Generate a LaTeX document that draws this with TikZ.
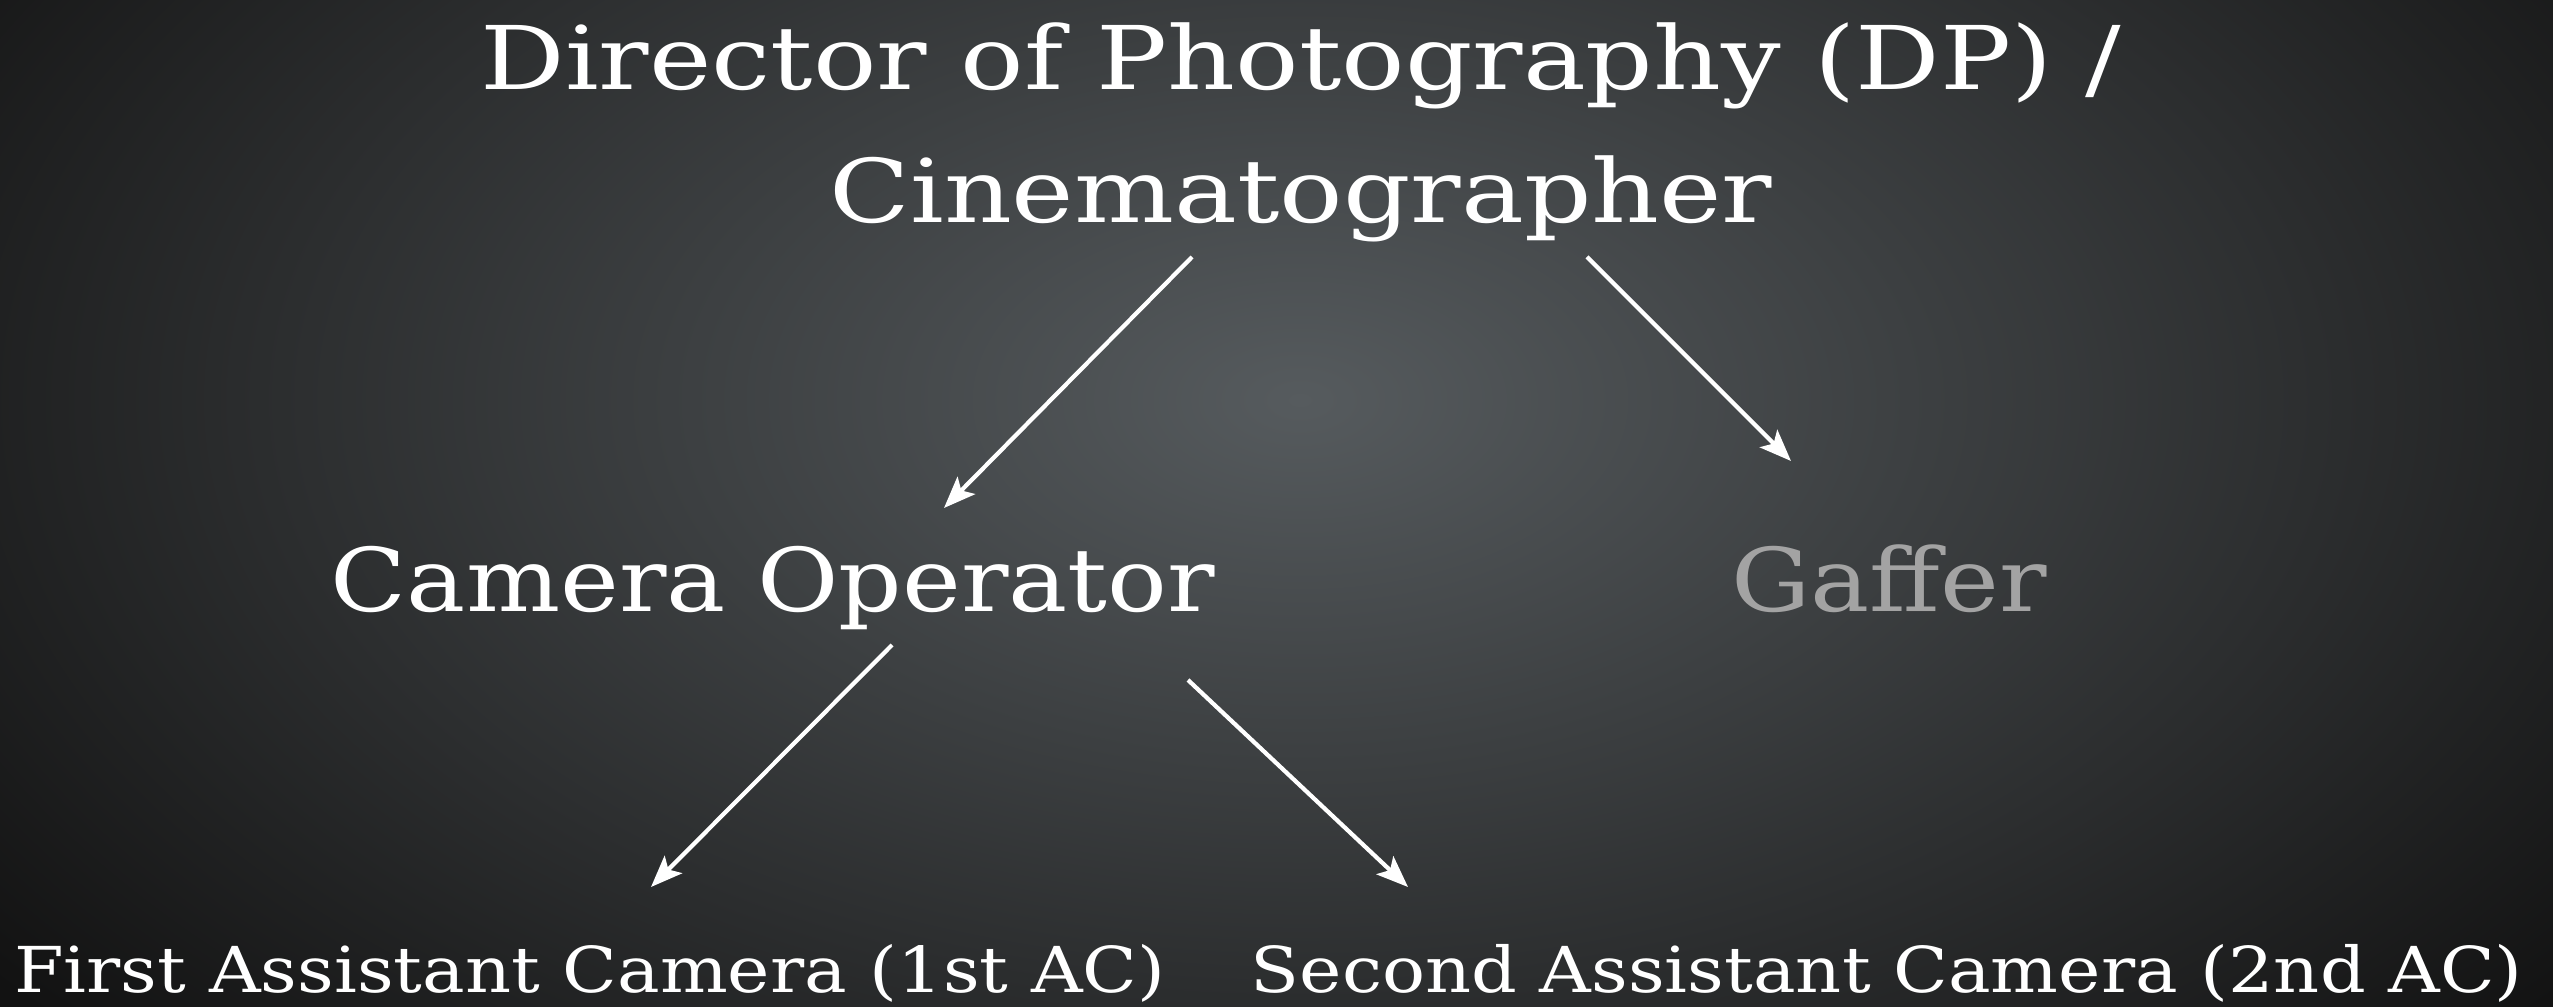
\documentclass[tikz,border=0pt]{standalone}
\usepackage{fontspec}
\setmainfont[FakeStretch=1.13]{DejaVu Serif}
\newfontfamily\titlefont[FakeStretch=1.2]{DejaVu Serif}
\usepackage{xcolor}
\usetikzlibrary{positioning,calc,arrows.meta}

\definecolor{bgcenter}{HTML}{565B5E}
\definecolor{bgedge}{HTML}{121212}
\definecolor{gafgray}{HTML}{A3A3A3}

\tikzset{
    big/.style={text=white, font=\fontsize{25}{30}\selectfont, inner sep=0pt},
    small/.style={text=white, font=\fontsize{18}{22}\selectfont, inner sep=0pt},
    arr/.style={draw=white, line width=1.2pt, -{Stealth[length=9pt,width=7pt,inset=2pt]}},
}

\begin{document}
\begin{tikzpicture}[x=0.01cm, y=-0.01cm]
    % background
    \useasboundingbox (0,0) rectangle (2553,1007);
    \begin{scope}
        \clip (0,0) rectangle (2553,1007);
        \shade[inner color=bgcenter, outer color=bgedge] (-350,-550) rectangle (2950,1350);
    \end{scope}

    \node (dp) [big, font=\titlefont\fontsize{25}{30}\selectfont, anchor=base] at (1301,90) {Director of Photography (DP) /};
    \node (cine) [big, font=\titlefont\fontsize{25}{30}\selectfont, anchor=base] at (1301,223) {Cinematographer};

    \node (cam) [big, anchor=base] at (773,612) {Camera Operator};
    \node (gaffer) [big, anchor=base, text=gafgray] at (1889,612) {Gaffer};

    \node (ac1) [small, anchor=base] at (590,993) {First Assistant Camera (1st AC)};
    \node (ac2) [small, anchor=base] at (1887,993) {Second Assistant Camera (2nd AC)};

    % connector ends
    \coordinate (cineL) at (1192,257);
    \coordinate (cineR) at (1587,257);
    \coordinate (camL) at (892,645);
    \coordinate (camR) at (1188,680);
    \coordinate (camT) at (944,508);
    \coordinate (gafT) at (1791,461);
    \coordinate (ac1T) at (651,887);
    \coordinate (ac2T) at (1408,887);

    \draw[arr] (cineL) -- (camT);
    \draw[arr] (cineR) -- (gafT);
    \draw[arr] (camL) -- (ac1T);
    \draw[arr] (camR) -- (ac2T);

\end{tikzpicture}
\end{document}
